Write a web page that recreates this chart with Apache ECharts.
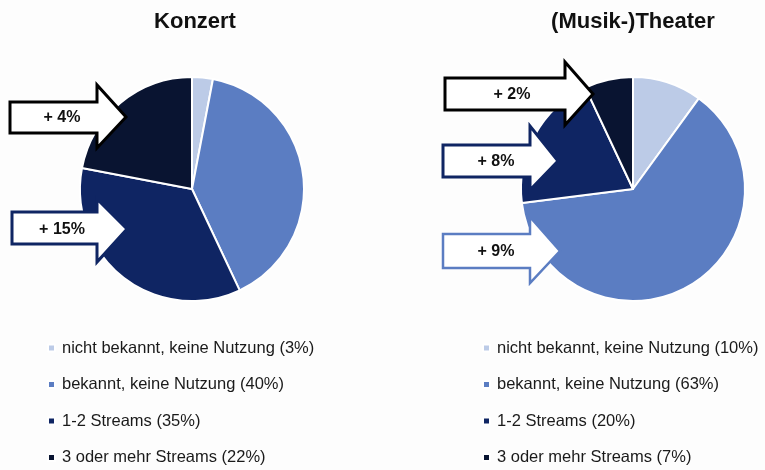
<!DOCTYPE html>
<html>
<head>
<meta charset="utf-8">
<script src="https://cdn.jsdelivr.net/npm/echarts@6/dist/echarts.min.js"></script>
<style>
  html, body { margin: 0; padding: 0; background: #fdfdfd; }
  #chart { width: 765px; height: 470px; }
</style>
</head>
<body>
<div id="chart"></div>
<script>
// Daten
var categories = ['nicht bekannt, keine Nutzung', 'bekannt, keine Nutzung', '1-2 Streams', '3 oder mehr Streams'];
var konzertValues = [3, 40, 35, 22];
var theaterValues = [10, 63, 20, 7];
var konzertChanges = ['+ 4%', '+ 15%'];
var theaterChanges = ['+ 2%', '+ 8%', '+ 9%'];

var colors = ['#bccbe7', '#5b7dc2', '#0f2563', '#091431'];
var font = 'Liberation Sans';

var chart = echarts.init(document.getElementById('chart'));

function toData(values) {
  return categories.map(function (c, i) {
    return { name: c, value: values[i], itemStyle: { color: colors[i] } };
  });
}

// Pfeil als Polygon: Schaft + Spitze
function arrow(x0, xb, sTop, sBot, hTop, hBot, tip, mid, stroke, lw, text, tx) {
  return [{
    type: 'polygon',
    z: 10,
    shape: {
      points: [[x0, sTop], [xb, sTop], [xb, hTop], [tip, mid], [xb, hBot], [xb, sBot], [x0, sBot]]
    },
    style: { fill: '#ffffff', stroke: stroke, lineWidth: lw, lineJoin: 'miter' }
  }, {
    type: 'text',
    z: 11,
    x: tx,
    y: mid + 1,
    style: {
      text: text,
      fill: '#111',
      font: 'bold 16px "' + font + '"',
      align: 'center',
      verticalAlign: 'middle'
    }
  }];
}

var graphics = []
  .concat(arrow(10, 97, 102, 133, 85, 148, 126, 117, '#000000', 3, konzertChanges[0], 62))
  .concat(arrow(12, 97, 212, 244, 199, 262, 127, 229, '#0f2563', 3, konzertChanges[1], 62))
  .concat(arrow(445, 565, 78, 110, 62, 125, 593, 94, '#000000', 3, theaterChanges[0], 512))
  .concat(arrow(443, 530, 145, 177, 126, 190, 558, 161, '#0f2563', 3, theaterChanges[1], 496))
  .concat(arrow(443, 530, 234, 268, 217, 283, 560, 251, '#5b7dc2', 2.5, theaterChanges[2], 496));

var legendCommon = {
  orient: 'vertical',
  top: 338,
  height: 132,
  padding: 0,
  itemWidth: 7,
  itemHeight: 7,
  itemGap: 16.5,
  icon: 'rect',
  selectedMode: false,
  data: categories,
  textStyle: { fontFamily: font, fontSize: 16.5, color: '#1a1a1a', lineHeight: 20, padding: [0, 0, 0, 2] }
};

var option = {
  backgroundColor: '#fdfdfd',
  animation: false,
  title: [
    { text: 'Konzert', left: 190, top: 6, textAlign: 'center',
      textStyle: { fontFamily: font, fontWeight: 'bold', fontSize: 22, color: '#111' } },
    { text: '(Musik-)Theater', left: 628, top: 6, textAlign: 'center',
      textStyle: { fontFamily: font, fontWeight: 'bold', fontSize: 22, color: '#111' } }
  ],
  legend: [
    Object.assign({}, legendCommon, {
      left: 47,
      formatter: function (name) {
        return name + ' (' + konzertValues[categories.indexOf(name)] + '%)';
      }
    }),
    Object.assign({}, legendCommon, {
      left: 482,
      formatter: function (name) {
        return name + ' (' + theaterValues[categories.indexOf(name)] + '%)';
      }
    })
  ],
  series: [
    {
      name: 'Konzert',
      type: 'pie',
      center: [192, 189],
      radius: 112,
      startAngle: 90,
      clockwise: true,
      label: { show: false },
      labelLine: { show: false },
      itemStyle: { borderColor: '#ffffff', borderWidth: 2 },
      emphasis: { disabled: true },
      data: toData(konzertValues)
    },
    {
      name: '(Musik-)Theater',
      type: 'pie',
      center: [633, 189],
      radius: 112,
      startAngle: 90,
      clockwise: true,
      label: { show: false },
      labelLine: { show: false },
      itemStyle: { borderColor: '#ffffff', borderWidth: 2 },
      emphasis: { disabled: true },
      data: toData(theaterValues)
    }
  ],
  graphic: graphics
};

chart.setOption(option);
</script>
</body>
</html>
